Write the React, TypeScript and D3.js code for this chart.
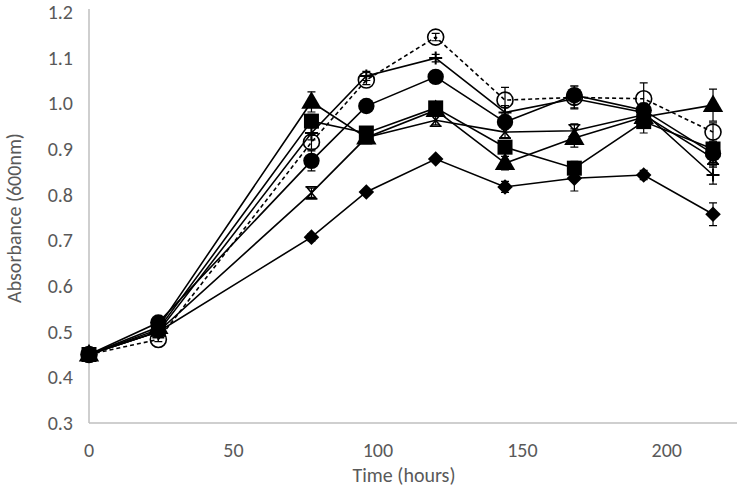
import React from 'react'
import * as d3 from 'd3'

const width = 739
const height = 487
const margin = { top: 12, right: 2, bottom: 64, left: 89 }

const hours = [0, 24, 77, 96, 120, 144, 168, 192, 216]
const xTicks = [0, 50, 100, 150, 200]
const yTicks = [0.3, 0.4, 0.5, 0.6, 0.7, 0.8, 0.9, 1.0, 1.1, 1.2]

const diamondVals = [0.45, 0.5, 0.707, 0.806, 0.878, 0.817, 0.836, 0.843, 0.757]
const diamondErr = [0, 0.005, 0.008, 0.005, 0.005, 0.012, 0.028, 0.01, 0.025]
const crossVals = [0.45, 0.5, 0.804, 0.925, 0.963, 0.937, 0.94, 0.975, 0.88]
const crossErr = [0, 0.005, 0.01, 0.008, 0.01, 0.012, 0.015, 0.01, 0.02]
const triangleVals = [0.45, 0.51, 1.003, 0.925, 0.985, 0.869, 0.924, 0.97, 0.996]
const triangleErr = [0, 0.005, 0.022, 0.008, 0.012, 0.015, 0.02, 0.015, 0.035]
const squareVals = [0.45, 0.505, 0.961, 0.935, 0.99, 0.904, 0.858, 0.96, 0.9]
const squareErr = [0, 0.005, 0.015, 0.01, 0.012, 0.012, 0.015, 0.025, 0.015]
const circleVals = [0.45, 0.52, 0.874, 0.994, 1.058, 0.959, 1.018, 0.985, 0.89]
const circleErr = [0, 0.006, 0.022, 0.008, 0.008, 0.015, 0.02, 0.015, 0.02]
const plusVals = [0.45, 0.5, 0.935, 1.06, 1.099, 0.98, 1.01, 0.98, 0.843]
const plusErr = [0, 0.005, 0.015, 0.01, 0.008, 0.015, 0.02, 0.015, 0.02]
const openVals = [0.45, 0.483, 0.915, 1.051, 1.145, 1.007, 1.013, 1.01, 0.937]
const openErr = [0, 0.005, 0.015, 0.01, 0.008, 0.028, 0.025, 0.035, 0.02]

const series = [
  { name: 'diamond', values: diamondVals, err: diamondErr, dashed: false },
  { name: 'cross', values: crossVals, err: crossErr, dashed: false },
  { name: 'triangle', values: triangleVals, err: triangleErr, dashed: false },
  { name: 'square', values: squareVals, err: squareErr, dashed: false },
  { name: 'circle', values: circleVals, err: circleErr, dashed: false },
  { name: 'plus', values: plusVals, err: plusErr, dashed: false },
  { name: 'open', values: openVals, err: openErr, dashed: true },
]

const x = d3.scaleLinear().domain([0, 224.3]).range([margin.left, width - margin.right])
const y = d3.scaleLinear().domain([0.3, 1.2]).range([height - margin.bottom, margin.top])

const line = d3.line<number>().x((_, i) => x(hours[i])).y(d => y(d))

const font = 'Carlito, Calibri, Lato, sans-serif'
const grey = '#595959'
const fs = 20

const Marker = ({ kind, cx, cy }: { kind: string; cx: number; cy: number }) => {
  const t = `translate(${cx},${cy})`
  if (kind === 'diamond') return <rect x={-5.5} y={-5.5} width={11} height={11} transform={`${t} rotate(45)`} fill='#000' />
  if (kind === 'square') return <rect x={-7.5} y={-7.5} width={15} height={15} transform={t} fill='#000' />
  if (kind === 'circle') return <circle cx={cx} cy={cy} r={8.2} fill='#000' />
  if (kind === 'triangle') return <path d={d3.symbol(d3.symbolTriangle, 180)()!} transform={`${t} translate(0,1)`} fill='#000' />
  if (kind === 'open') return <circle cx={cx} cy={cy} r={8} fill='none' stroke='#000' strokeWidth={1.6} />
  if (kind === 'plus') return <path d='M-6.5,0H6.5M0,-6.5V6.5' transform={t} stroke='#000' strokeWidth={2} />
  // cross: x marker with caps like an hourglass
  return <path d='M-5,-6L5,6M5,-6L-5,6M-6,-6H6M-6,6H6' transform={t} stroke='#000' strokeWidth={1.6} fill='none' />
}

const App = () => {
  return (
    <svg width={width} height={height} style={{ position: 'absolute', left: 0, top: 0, background: '#fff' }}>
      <line x1={x(0)} x2={x(0)} y1={margin.top - 3} y2={y(0.3)} stroke='#bfbfbf' strokeWidth={1.5} />
      <line x1={x(0)} x2={width - margin.right} y1={y(0.3)} y2={y(0.3)} stroke='#bfbfbf' strokeWidth={1.5} />
      {yTicks.map(t => (
        <text key={t} x={73} y={y(t)} dy='0.35em' textAnchor='end' fontFamily={font} fontSize={fs} fill={grey}>
          {d3.format('.1f')(t)}
        </text>
      ))}
      {xTicks.map(t => (
        <text key={t} x={x(t)} y={450} dy='0.35em' textAnchor='middle' fontFamily={font} fontSize={fs} fill={grey}>
          {t}
        </text>
      ))}
      <text x={404} y={475} dy='0.35em' textAnchor='middle' fontFamily={font} fontSize={fs} fill={grey}>Time (hours)</text>
      <text transform={`translate(14,218) rotate(-90)`} dy='0.35em' textAnchor='middle' fontFamily={font} fontSize={fs} fill={grey}>
        Absorbance (600nm)
      </text>
      {series.map(s => (
        <g key={s.name}>
          <path d={line(s.values)!} fill='none' stroke='#000' strokeWidth={1.6} strokeDasharray={s.dashed ? '4,3' : undefined} />
          {s.values.map((v, i) => s.err[i] > 0 ? (
            <path key={i}
              d={`M${x(hours[i])},${y(v - s.err[i])}V${y(v + s.err[i])}M${x(hours[i]) - 4},${y(v - s.err[i])}H${x(hours[i]) + 4}M${x(hours[i]) - 4},${y(v + s.err[i])}H${x(hours[i]) + 4}`}
              stroke='#000' strokeWidth={1.2} fill='none' />
          ) : null)}
          {s.values.map((v, i) => <Marker key={i} kind={s.name} cx={x(hours[i])} cy={y(v)} />)}
        </g>
      ))}
    </svg>
  )
}

export default App
